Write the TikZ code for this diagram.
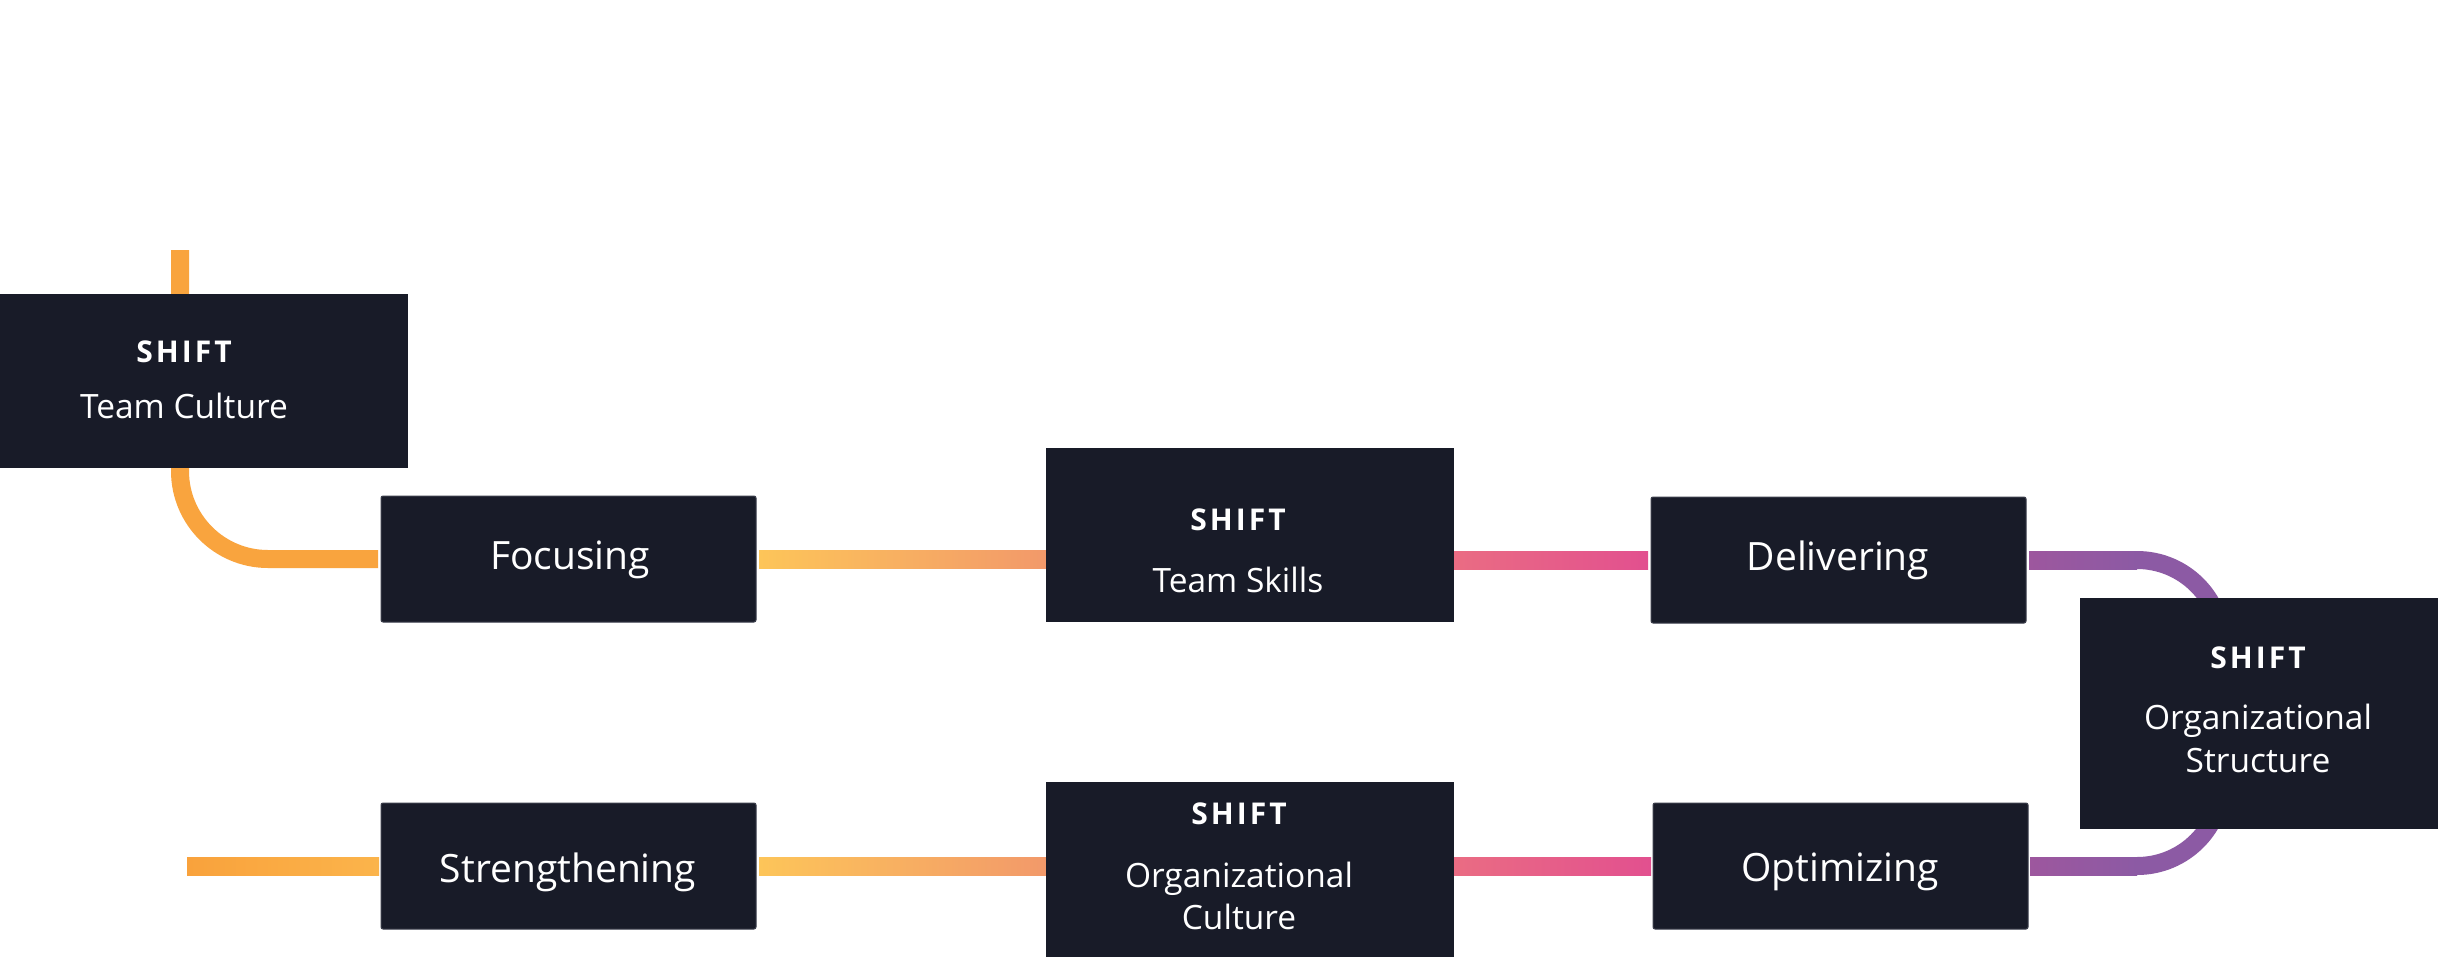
\documentclass[tikz,border=0pt]{standalone}
\usepackage{fontspec}
\setmainfont{Open Sans}
\newfontfamily\shiftfont[LetterSpace=10]{Open Sans}
\usetikzlibrary{calc}
\pgfdeclarelayer{back}
\pgfdeclarelayer{bg}
\pgfsetlayers{back,bg,main}
\definecolor{navy}{HTML}{181B28}
\definecolor{edge}{HTML}{3C3F4C}
\definecolor{orA}{HTML}{F9A23C}
\definecolor{orB}{HTML}{FBB44B}
\definecolor{orC}{HTML}{F9A43E}
\definecolor{yelA}{HTML}{FDC559}
\definecolor{salB}{HTML}{F2996A}
\definecolor{pinkA}{HTML}{EA6C83}
\definecolor{pinkB}{HTML}{E2508F}
\definecolor{purA}{HTML}{9D579E}
\definecolor{purB}{HTML}{8C5AA4}
\begin{document}
\begin{tikzpicture}[x=1pt,y=-1pt,
  box/.style={fill=navy,inner sep=0pt,outer sep=0pt,draw=none},
  lblbox/.style={box,draw=edge,line width=1pt,rounded corners=2pt,minimum width=375pt,minimum height=126pt},
  shifttxt/.style={text=white,font=\shiftfont\bfseries\fontsize{30}{36}\selectfont,anchor=base,inner sep=0pt},
  subtxt/.style={text=white,font=\fontsize{33.5}{40}\selectfont,anchor=base,inner sep=0pt},
  labtxt/.style={text=white,font=\fontsize{39}{46}\selectfont,anchor=base,inner sep=0pt},
  wire/.style={line width=18pt}]
\useasboundingbox (0,0) rectangle (2438,956);
\begin{pgfonlayer}{back}
\fill[white] (0,0) rectangle (2438,956);
\end{pgfonlayer}

% boxes
\node[box,minimum width=448pt,minimum height=174pt] (tc) at (184,381) {};
\node[lblbox] (foc) at (568.5,559) {};
\node[box,minimum width=408pt,minimum height=174pt] (ts) at (1250,535) {};
\node[lblbox] (del) at (1838.5,560) {};
\node[box,minimum width=358pt,minimum height=231pt] (os) at (2259,713.5) {};
\node[lblbox] (opt) at (1840.5,866) {};
\node[box,minimum width=408pt,minimum height=190pt] (oc) at (1250,877) {};
\node[lblbox] (str) at (568.5,866) {};

% texts
\node[shifttxt] (tc1) at (184,362) {SHIFT};
\node[subtxt] (tc2) at (184,418) {Team Culture};
\node[labtxt] (foct) at (570,569) {Focusing};
\node[shifttxt] (ts1) at (1238,530) {SHIFT};
\node[subtxt] (ts2) at (1238,592) {Team Skills};
\node[labtxt] (delt) at (1838,570) {Delivering};
\node[shifttxt] (os1) at (2258,668) {SHIFT};
\node[subtxt] (os2) at (2258,729) {Organizational};
\node[subtxt] (os3) at (2258,772) {Structure};
\node[labtxt] (optt) at (1840,881) {Optimizing};
\node[shifttxt] (oc1) at (1239,824) {SHIFT};
\node[subtxt] (oc2) at (1239,887) {Organizational};
\node[subtxt] (oc3) at (1239,929) {Culture};
\node[labtxt] (strt) at (568,882) {Strengthening};

% connectors
\coordinate (tctop) at (180,250);
\coordinate (pv) at (2222,713);
\coordinate (sl) at (187,866);
\begin{pgfonlayer}{bg}
\draw[wire,orC,rounded corners=88pt,shorten >=3pt] (tctop) |- (foc.west);
\draw[wire,purB,rounded corners=85pt,shorten <=3pt,shorten >=2pt] (del.east) -| (pv) |- (opt.east);
\shade[left color=purA,right color=purB] ($(del.east)+(3,-9)$) rectangle ($(del.east -| pv)+(-85,9)$);
\shade[left color=purA,right color=purB] ($(opt.east)+(2,-9)$) rectangle ($(opt.east -| pv)+(-85,9)$);
\shade[left color=yelA,right color=salB] ($(foc.east)+(3,-9)$) rectangle ($(ts.west |- foc.east)+(0,9)$);
\shade[left color=pinkA,right color=pinkB] ($(ts.east |- del.west)+(0,-9)$) rectangle ($(del.west)+(-3,9)$);
\shade[left color=orA,right color=orB] ($(sl)+(0,-9)$) rectangle ($(str.west)+(-2,9)$);
\shade[left color=yelA,right color=salB] ($(str.east)+(3,-9)$) rectangle ($(oc.west |- str.east)+(0,9)$);
\shade[left color=pinkA,right color=pinkB] ($(oc.east |- opt.west)+(0,-9)$) rectangle ($(opt.west)+(-2,9)$);
\end{pgfonlayer}
\end{tikzpicture}
\end{document}
